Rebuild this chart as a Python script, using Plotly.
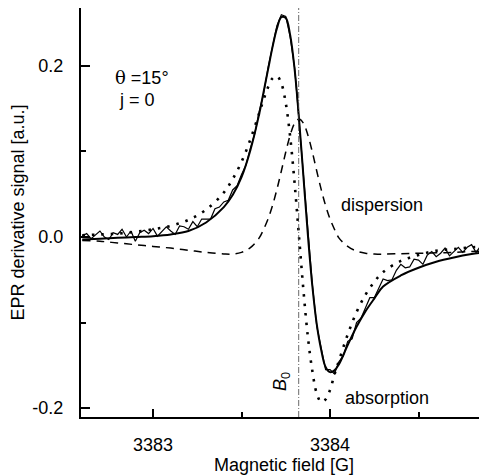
import numpy as np
import plotly.graph_objects as go

# ---- data ----
exp_start = 3382.600
exp_step = 0.025
exp_signal = [
    # left wing
    0.001, 0.004, -0.002, 0.003, 0.007, 0.000, -0.003, 0.005, 0.003, 0.009,
    0.000, 0.007, -0.005, 0.005, 0.008, 0.004, 0.010, 0.001, 0.007, 0.012,
    0.007, 0.003, 0.013, 0.012, 0.009, 0.018, 0.012, 0.021, 0.021, 0.021,
    0.033, 0.035, 0.041,
    # centre
    0.043, 0.055, 0.060, 0.073, 0.084, 0.104, 0.121, 0.147, 0.168, 0.198,
    0.221, 0.247, 0.260, 0.258, 0.234, 0.198, 0.136, 0.072, 0.000, -0.055,
    -0.104, -0.130, -0.155, -0.155, -0.160, -0.146, -0.139, -0.122, -0.119,
    # right wing
    -0.100, -0.095, -0.083, -0.071, -0.071, -0.060, -0.049, -0.051, -0.050,
    -0.039, -0.032, -0.036, -0.035, -0.026, -0.027, -0.032, -0.021, -0.017,
    -0.023, -0.019, -0.013, -0.022, -0.017, -0.012, -0.018, -0.012, -0.009,
    -0.018, -0.011, -0.009,
]
exp_field = np.round(exp_start + exp_step * np.arange(len(exp_signal)), 3)

fit_field = [3382.60, 3382.70, 3382.80, 3382.90, 3383.00, 3383.10, 3383.20,
             3383.30, 3383.40, 3383.45, 3383.50, 3383.55, 3383.60, 3383.625,
             3383.65, 3383.675, 3383.70, 3383.725, 3383.75, 3383.775, 3383.80,
             3383.825, 3383.85, 3383.875, 3383.90, 3383.925, 3383.95, 3383.975,
             3384.00, 3384.025, 3384.05, 3384.10, 3384.15, 3384.20, 3384.25,
             3384.30, 3384.40, 3384.50, 3384.60, 3384.70, 3384.80, 3384.90]
fit_total = [-0.003, -0.002, -0.001, 0.000, 0.001, 0.003, 0.007, 0.017, 0.035,
             0.049, 0.070, 0.1015, 0.144, 0.170, 0.196, 0.222, 0.244, 0.257,
             0.256, 0.236, 0.196, 0.138, 0.070, 0.002, -0.057, -0.102, -0.132,
             -0.152, -0.158, -0.156, -0.149, -0.1265, -0.105, -0.087, -0.072,
             -0.058, -0.045, -0.036, -0.029, -0.024, -0.020, -0.017]
absorption = [0.002, 0.003, 0.004, 0.006, 0.009, 0.013, 0.020, 0.032, 0.052,
              0.0677, 0.0879, 0.1140, 0.145, 0.1609, 0.1752, 0.1855, 0.1882,
              0.1796, 0.1565, 0.1169, 0.0628, 0.0, -0.0628, -0.1169, -0.1565,
              -0.183, -0.193, -0.190, -0.179, -0.1609, -0.145, -0.114, -0.0879,
              -0.0677, -0.0525, -0.041, -0.028, -0.021, -0.016, -0.014, -0.012,
              -0.011]
dispersion = [-0.004, -0.005, -0.007, -0.009, -0.011, -0.013, -0.0155, -0.018,
              -0.0198, -0.020, -0.018, -0.0125, -0.001, 0.0091, 0.0212, 0.0368,
              0.0557, 0.0772, 0.0994, 0.1191, 0.133, 0.138, 0.133, 0.1191,
              0.0994, 0.0772, 0.0557, 0.0368, 0.0212, 0.0091, -0.001, -0.011,
              -0.0165, -0.019, -0.020, -0.020, -0.0195, -0.019, -0.0185, -0.018,
              -0.017, -0.016]
b0_field = 3383.823

y_tickvals = [0.2, 0.0, -0.2]
y_ticktext = ["0.2", "0.0", "-0.2"]
x_tickvals = [3383, 3384]
x_ticktext = ["3383", "3384"]

FONT = "Liberation Sans, Arial, sans-serif"

fig = go.Figure()
fig.add_trace(go.Scatter(x=fit_field, y=dispersion, mode="lines",
                         line=dict(color="black", width=1.5, dash="8px,6px"),
                         line_shape="spline", showlegend=False))
fig.add_trace(go.Scatter(x=fit_field, y=absorption, mode="lines",
                         line=dict(color="black", width=2.6, dash="2.5px,7px"),
                         line_shape="spline", showlegend=False))
fig.add_trace(go.Scatter(x=exp_field, y=exp_signal, mode="lines",
                         line=dict(color="black", width=1.2),
                         showlegend=False))
fig.add_trace(go.Scatter(x=fit_field, y=fit_total, mode="lines",
                         line=dict(color="black", width=2),
                         line_shape="spline", showlegend=False))

fig.add_shape(type="line", xref="x", yref="paper", x0=b0_field, x1=b0_field,
              y0=0, y1=1, line=dict(color="#444", width=0.8, dash="6px,2px,1px,2px"))

fig.add_annotation(xref="paper", yref="paper", x=0.0788, y=0.829, xanchor="left",
                   yanchor="middle", showarrow=False,
                   text="<span style='font-family:DejaVu Serif'>θ</span> =15°",
                   font=dict(family=FONT, size=18, color="black"))
fig.add_annotation(xref="paper", yref="paper", x=0.0887, y=0.775, xanchor="left",
                   yanchor="middle", showarrow=False, text="j = 0",
                   font=dict(family=FONT, size=18, color="black"))
fig.add_annotation(xref="paper", yref="paper", x=0.635, y=0.518, xanchor="left",
                   yanchor="middle", showarrow=False, text="dispersion",
                   font=dict(family=FONT, size=18, color="black"))
fig.add_annotation(xref="paper", yref="paper", x=0.645, y=0.046, xanchor="left",
                   yanchor="middle", showarrow=False, text="absorption",
                   font=dict(family=FONT, size=18, color="black"))
fig.add_annotation(xref="paper", yref="paper", x=0.4926, y=0.088, xanchor="center",
                   yanchor="middle", showarrow=False, textangle=-90,
                   text="<i>B</i><sub>0</sub>",
                   font=dict(family=FONT, size=18, color="black"))

# page body has an 8px margin: figure is sized/offset to land on the reference pixels
fig.update_layout(
    width=479, height=467,
    margin=dict(l=73, r=0, t=0, b=58),
    paper_bgcolor="white", plot_bgcolor="white",
    font=dict(family=FONT, size=18, color="black"),
    xaxis=dict(range=[3382.593, 3384.887], showgrid=False, zeroline=False,
               showline=True, linecolor="black", linewidth=2, mirror=True,
               ticks="inside", ticklen=8, tickwidth=1.5, tickcolor="black",
               tickvals=x_tickvals, ticktext=x_ticktext,
               ticklabelstandoff=10, automargin=False,
               minor=dict(tickvals=[3383.5, 3384.5], ticks="inside", ticklen=5,
                          tickwidth=1.5, tickcolor="black"),
               title=dict(text="Magnetic field [G]", standoff=4,
                          font=dict(size=18))),
    yaxis=dict(range=[-0.2105, 0.2678], showgrid=False, zeroline=False,
               showline=True, linecolor="black", linewidth=2, mirror=False,
               ticks="inside", ticklen=9, tickwidth=1.5, tickcolor="black",
               tickvals=y_tickvals, ticktext=y_ticktext,
               ticklabelstandoff=12, automargin=False,
               minor=dict(tickvals=[0.1, -0.1], ticks="inside", ticklen=5,
                          tickwidth=1.5, tickcolor="black"),
               title=dict(text="EPR derivative signal [a.u.]", standoff=4,
                          font=dict(size=18))),
)

fig.write_html("out.html")
